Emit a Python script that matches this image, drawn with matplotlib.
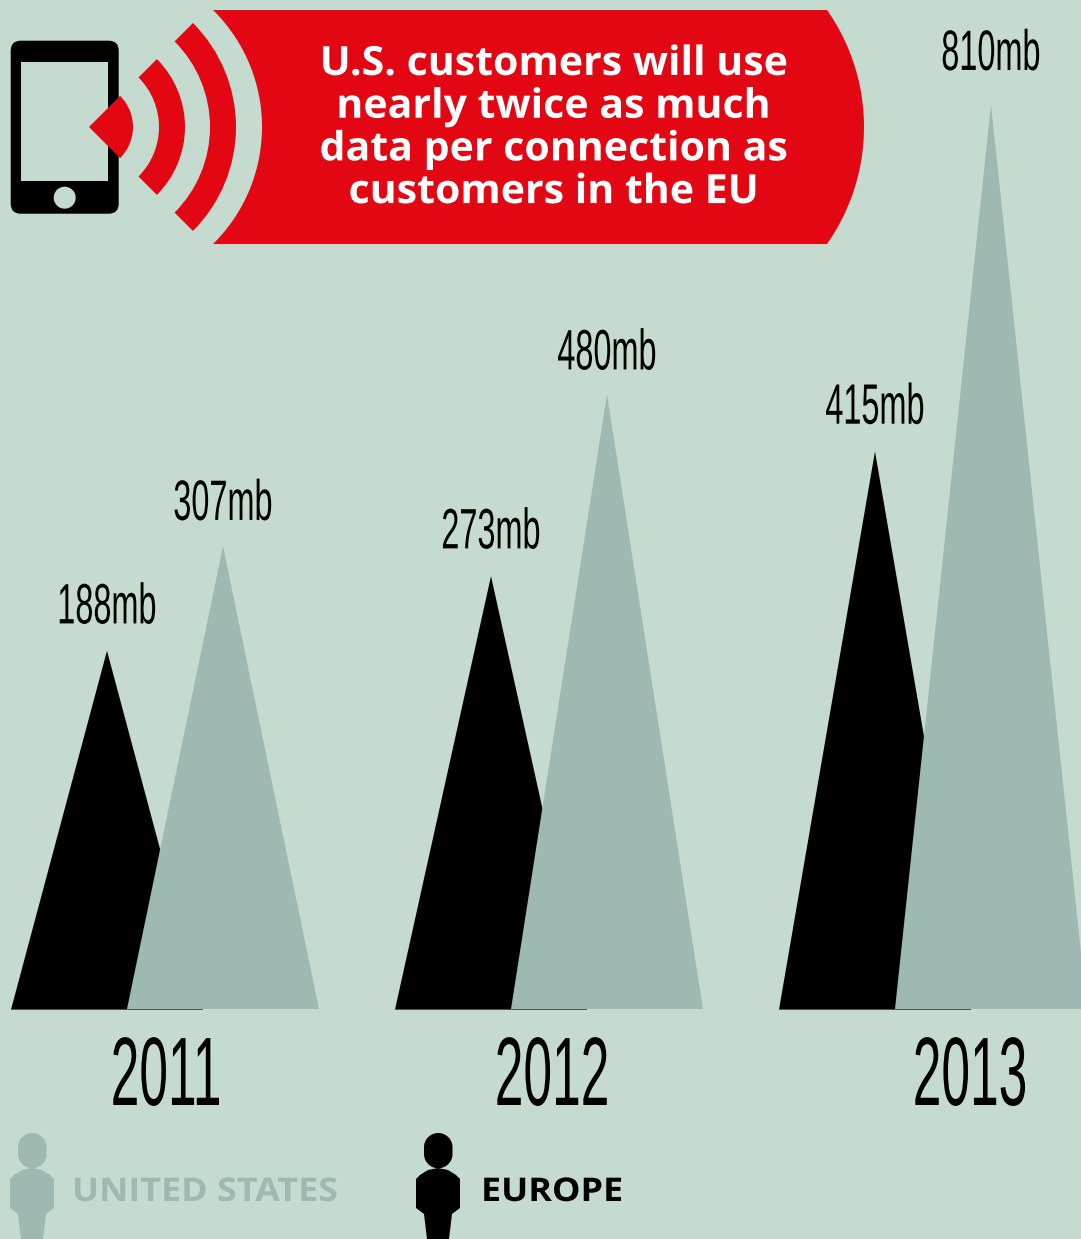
import numpy as np
import matplotlib
matplotlib.use('Agg')
import matplotlib.pyplot as plt
import matplotlib.patheffects as pe
from matplotlib.patches import Wedge, Circle, FancyBboxPatch, Polygon
from matplotlib.transforms import Affine2D

# Chart data
years = ['2011', '2012', '2013']
europe_mb = [188, 273, 415]
us_mb = [307, 480, 810]
header_lines = ['U.S. customers will use', 'nearly twice as much',
                'data per connection as', 'customers in the EU']

BG = '#c6dbd0'
GREY = '#9eb8b2'
RED = '#e30613'
W, H = 1081, 1239

# Pixel layout of the triangle groups
BASE_Y = 1009
PX_PER_MB = 0.878
MB_AT_BASE = -220
GROUP_STEP = 384
FIRST_GROUP = 107


# No condensed font is installed, so squeeze the real text sideways when drawn
class Squeeze(pe.AbstractPathEffect):
    def __init__(self, cx, sx):
        super().__init__()
        self.cx = cx
        self.sx = sx

    def draw_path(self, renderer, gc, tpath, affine, rgbFace=None):
        squeeze = Affine2D().translate(-self.cx, 0).scale(self.sx, 1).translate(self.cx, 0)
        renderer.draw_path(gc, tpath, affine + squeeze, rgbFace)


fig = plt.figure(figsize=(W / 100, H / 100), dpi=100, facecolor=BG)

# Overlay axes in pixels for the decoration
deco = fig.add_axes([0, 0, 1, 1], zorder=1)
deco.set_xlim(0, W)
deco.set_ylim(H, 0)
deco.axis('off')

# Chart axes: x is group index, y is mb
ax = fig.add_axes([0, 0, 1, 1], zorder=2)
ax.patch.set_alpha(0)
ax.set_xlim(-FIRST_GROUP / GROUP_STEP, (W - FIRST_GROUP) / GROUP_STEP)
ax.set_ylim(MB_AT_BASE - (H - BASE_Y) / PX_PER_MB, MB_AT_BASE + BASE_Y / PX_PER_MB)
ax.axis('off')

half = 96 / GROUP_STEP
us_shift = 116 / GROUP_STEP
label_gaps = {188: 19.7, 307: 19, 273: 20, 480: 18, 415: 20, 810: 25}

for i, (eu, us) in enumerate(zip(europe_mb, us_mb)):
    # black base sits a hair lower so its edge shows under the grey one
    ax.fill([i - half, i, i + half], [MB_AT_BASE - 0.7, eu, MB_AT_BASE - 0.7], color='black', lw=0, zorder=2)
    j = i + us_shift
    ax.fill([j - half, j, j + half], [MB_AT_BASE, us, MB_AT_BASE], color=GREY, lw=0, zorder=3)
    for xpos, val in ((i, eu), (j, us)):
        px = ax.transData.transform((xpos, val))[0]
        ax.annotate(f'{val}mb', (xpos, val), xytext=(0, label_gaps[val]),
                    textcoords='offset points', ha='center', va='baseline',
                    fontsize=41, family='Liberation Sans', color='black',
                    path_effects=[Squeeze(px, 0.57)], zorder=4)

# Year labels
for year, px in zip(years, [166, 552, 970]):
    deco.text(px, 1105, year, ha='center', va='baseline', fontsize=70,
              family='Liberation Sans', color='black',
              path_effects=[Squeeze(px, 0.53)])


def arc(cx, cy, r, a0, a1, n=60):
    t = np.radians(np.linspace(a0, a1, n))
    return np.column_stack([cx + r * np.cos(t), cy + r * np.sin(t)])


# Red banner, concave on the left, convex on the right
left_a = np.degrees(np.arcsin(117 / 164.2))
right_a = np.degrees(np.arcsin(117 / 203.5))
left = arc(97.8, 127, 164.2, left_a, -left_a)
right = arc(660.5, 127, 203.5, -right_a, right_a)
deco.add_patch(Polygon(np.vstack([left, right]), closed=True, color=RED, lw=0))

for k, line in enumerate(header_lines):
    deco.text(553, 75 + 42.7 * k, line, ha='center', va='baseline', color='white',
              fontsize=29, family='Open Sans', fontweight='bold',
              path_effects=[Squeeze(553, 1.02)])

# Phone icon
deco.add_patch(FancyBboxPatch((20.7, 50.7), 88, 153, boxstyle='round,pad=10,rounding_size=10',
                              fc='black', ec='none', lw=0))
deco.add_patch(plt.Rectangle((21.3, 62), 86.7, 119, fc=BG, ec='none'))
deco.add_patch(Circle((64.7, 197.7), 11, fc=BG, ec='none'))

# Signal arcs
deco.add_patch(Wedge((89, 127), 44, -45, 45, fc=RED, ec='none'))
deco.add_patch(Wedge((89, 127), 96, -45, 45, width=26, fc=RED, ec='none'))
deco.add_patch(Wedge((89, 127), 147, -45, 45, width=26, fc=RED, ec='none'))


# Legend figures
def person(dx, color):
    head = np.vstack([arc(32.25 + dx, 1147.25, 14.25, 180, 360), arc(32.25 + dx, 1154, 14.25, 0, 180)])
    deco.add_patch(Polygon(head, closed=True, fc=color, ec='none'))
    body = [(10, 1179), (14, 1175), (22, 1170), (32, 1168), (42, 1170), (50, 1175), (54, 1179),
            (54, 1208), (46, 1214), (43, 1239), (21, 1239), (18, 1214), (10, 1208)]
    deco.add_patch(Polygon([(x + dx, y) for x, y in body], closed=True, fc=color, ec='none'))


person(0, GREY)
person(406, 'black')
deco.text(72, 1201, 'UNITED STATES', ha='left', va='baseline', color=GREY,
          fontsize=23.5, family='Open Sans', fontweight='bold',
          path_effects=[Squeeze(72, 1.1)])
deco.text(481, 1201, 'EUROPE', ha='left', va='baseline', color='black',
          fontsize=23.5, family='Open Sans', fontweight='bold',
          path_effects=[Squeeze(481, 1.1)])

fig.savefig('out.png', dpi=100, facecolor=BG)
